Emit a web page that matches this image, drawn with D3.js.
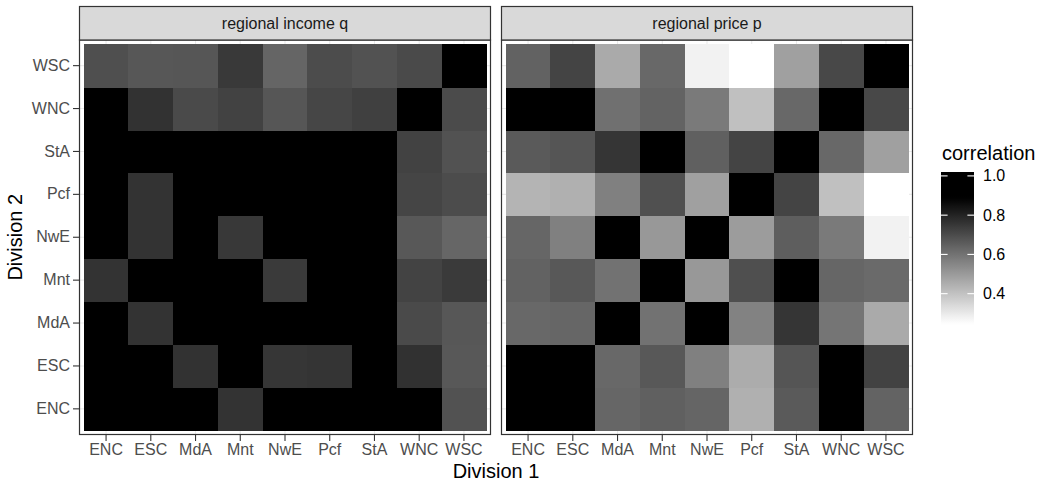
<!DOCTYPE html>
<html>
<head>
<meta charset="utf-8">
<script src="https://cdn.jsdelivr.net/npm/d3@7"></script>
<style>
  html, body { margin: 0; padding: 0; background: #ffffff; }
  svg { display: block; font-family: "Liberation Sans", Arial, Helvetica, sans-serif; }
</style>
</head>
<body>
<svg id="chart" width="1047" height="483"></svg>
<script>
// Census divisions on both axes
const divisions = ["ENC", "ESC", "MdA", "Mnt", "NwE", "Pcf", "StA", "WNC", "WSC"];

// Correlation matrices: one row per Division 2 (ENC ... WSC), columns follow Division 1
const incomeCorr = [
  [1.00, 0.97, 0.96, 0.761, 0.95, 0.96, 0.97, 0.94, 0.683],
  [0.97, 1.00, 0.764, 0.95, 0.753, 0.758, 0.96, 0.766, 0.667],
  [0.96, 0.761, 1.00, 0.96, 0.97, 0.95, 0.96, 0.703, 0.670],
  [0.761, 0.95, 0.96, 1.00, 0.743, 0.95, 0.97, 0.720, 0.743],
  [0.96, 0.761, 0.97, 0.748, 1.00, 0.96, 0.95, 0.667, 0.632],
  [0.95, 0.761, 0.96, 0.95, 0.96, 1.00, 0.97, 0.715, 0.698],
  [0.97, 0.96, 0.96, 0.95, 0.96, 0.97, 1.00, 0.723, 0.683],
  [0.94, 0.764, 0.703, 0.723, 0.672, 0.713, 0.728, 1.00, 0.700],
  [0.690, 0.670, 0.672, 0.746, 0.635, 0.698, 0.683, 0.703, 1.00]
];

const priceCorr = [
  [1.00, 0.96, 0.632, 0.647, 0.635, 0.445, 0.662, 0.95, 0.640],
  [0.96, 1.00, 0.627, 0.667, 0.566, 0.455, 0.675, 0.94, 0.723],
  [0.627, 0.632, 1.00, 0.602, 0.95, 0.561, 0.756, 0.594, 0.460],
  [0.642, 0.667, 0.602, 1.00, 0.506, 0.690, 0.95, 0.632, 0.622],
  [0.632, 0.566, 0.95, 0.506, 1.00, 0.495, 0.652, 0.581, 0.278],
  [0.435, 0.445, 0.566, 0.688, 0.485, 1.00, 0.718, 0.404, 0.245],
  [0.662, 0.675, 0.756, 0.94, 0.647, 0.718, 1.00, 0.627, 0.485],
  [0.96, 0.95, 0.607, 0.640, 0.581, 0.404, 0.627, 1.00, 0.708],
  [0.642, 0.718, 0.460, 0.627, 0.278, 0.245, 0.485, 0.708, 1.00]
];

const panelTitles = ["regional income q", "regional price p"];
const legendTicks = [0.4, 0.6, 0.8, 1.0];

const panels = [
  { title: panelTitles[0], values: incomeCorr },
  { title: panelTitles[1], values: priceCorr }
];

// Fill scale: light for weak correlation, black for strong
const allValues = incomeCorr.flat().concat(priceCorr.flat());
const vMin = d3.min(allValues);
const vMax = d3.max(allValues);
const fill = d3.scaleLinear()
  .domain([vMin, 0.89])
  .range(["#ffffff", "#000000"])
  .clamp(true);

const svg = d3.select("#chart");

// Layout
const panelW = 411;
const panelXs = [79.5, 501.5];
const stripTop = 6.5, stripBottom = 40;
const panelTop = 40, panelBottom = 434.5;
const inset = 4.2;

const y = d3.scaleBand()
  .domain(divisions)
  .range([panelBottom - inset, panelTop + inset])
  .padding(0);

panels.forEach((p, pi) => {
  const x0 = panelXs[pi];
  const x = d3.scaleBand()
    .domain(divisions)
    .range([x0 + inset, x0 + panelW - inset])
    .padding(0);

  const g = svg.append("g");

  // panel background
  g.append("rect")
    .attr("x", x0).attr("y", panelTop)
    .attr("width", panelW).attr("height", panelBottom - panelTop)
    .attr("fill", "#ffffff");

  // grid lines at category centres
  g.selectAll("line.gx").data(divisions).enter().append("line")
    .attr("x1", d => x(d) + x.bandwidth() / 2)
    .attr("x2", d => x(d) + x.bandwidth() / 2)
    .attr("y1", panelTop).attr("y2", panelBottom)
    .attr("stroke", "#ebebeb").attr("stroke-width", 1.1);
  g.selectAll("line.gy").data(divisions).enter().append("line")
    .attr("y1", d => y(d) + y.bandwidth() / 2)
    .attr("y2", d => y(d) + y.bandwidth() / 2)
    .attr("x1", x0).attr("x2", x0 + panelW)
    .attr("stroke", "#ebebeb").attr("stroke-width", 1.1);

  // tiles
  const cells = [];
  p.values.forEach((row, ri) => {
    row.forEach((v, ci) => {
      cells.push({ d1: divisions[ci], d2: divisions[ri], v: v });
    });
  });
  g.append("g")
    .attr("shape-rendering", "crispEdges")
    .selectAll("rect.tile").data(cells).enter().append("rect")
    .attr("class", "tile")
    .attr("x", d => x(d.d1))
    .attr("y", d => y(d.d2))
    .attr("width", x.bandwidth() + 0.5)
    .attr("height", y.bandwidth() + 0.5)
    .attr("fill", d => fill(d.v));

  // panel border
  g.append("rect")
    .attr("x", x0).attr("y", panelTop)
    .attr("width", panelW).attr("height", panelBottom - panelTop)
    .attr("fill", "none").attr("stroke", "#333333").attr("stroke-width", 1.2);

  // strip
  g.append("rect")
    .attr("x", x0).attr("y", stripTop)
    .attr("width", panelW).attr("height", stripBottom - stripTop)
    .attr("fill", "#d9d9d9").attr("stroke", "#333333").attr("stroke-width", 1.2);
  g.append("text")
    .attr("x", x0 + panelW / 2).attr("y", (stripTop + stripBottom) / 2)
    .attr("text-anchor", "middle").attr("dominant-baseline", "central")
    .attr("font-size", 16).attr("fill", "#1a1a1a")
    .text(p.title);

  // x axis
  const xa = g.append("g")
    .attr("transform", `translate(0,${panelBottom})`)
    .call(d3.axisBottom(x).tickSize(6.5).tickSizeOuter(0).tickPadding(3));
  xa.select(".domain").remove();
  xa.selectAll(".tick line").attr("stroke", "#333333").attr("stroke-width", 1.1);
  xa.selectAll(".tick text").attr("font-size", 16).attr("fill", "#4d4d4d")
    .attr("font-family", "Liberation Sans, Arial, sans-serif");

  // y axis on the first panel only
  if (pi === 0) {
    const ya = g.append("g")
      .attr("transform", `translate(${x0},0)`)
      .call(d3.axisLeft(y).tickSize(6.5).tickSizeOuter(0).tickPadding(3));
    ya.select(".domain").remove();
    ya.selectAll(".tick line").attr("stroke", "#333333").attr("stroke-width", 1.1);
    ya.selectAll(".tick text").attr("font-size", 16).attr("fill", "#4d4d4d")
      .attr("font-family", "Liberation Sans, Arial, sans-serif");
  }
});

// axis titles
svg.append("text")
  .attr("x", (panelXs[0] + panelXs[1] + panelW) / 2).attr("y", 478)
  .attr("text-anchor", "middle").attr("font-size", 20).attr("fill", "#000000")
  .text("Division 1");
svg.append("text")
  .attr("transform", `translate(22,${(panelTop + panelBottom) / 2}) rotate(-90)`)
  .attr("text-anchor", "middle").attr("font-size", 20).attr("fill", "#000000")
  .text("Division 2");

// legend colour bar
const barX = 941, barW = 33, barTop = 172, barBottom = 328;
const halfBin = (barBottom - barTop) / 40;
const legendY = d3.scaleLinear()
  .domain([vMax, vMin])
  .range([barTop + halfBin, barBottom - halfBin]);

const defs = svg.append("defs");
const grad = defs.append("linearGradient")
  .attr("id", "corrGradient")
  .attr("x1", 0).attr("y1", 0).attr("x2", 0).attr("y2", 1);
d3.range(0, 61).forEach(i => {
  const t = i / 60;
  const v = legendY.invert(barTop + t * (barBottom - barTop));
  grad.append("stop").attr("offset", t).attr("stop-color", fill(v));
});

svg.append("text")
  .attr("x", 942).attr("y", 160)
  .attr("font-size", 20).attr("fill", "#000000")
  .text("correlation");

svg.append("rect")
  .attr("x", barX).attr("y", barTop)
  .attr("width", barW).attr("height", barBottom - barTop)
  .attr("fill", "url(#corrGradient)");

const tickLen = barW / 5;
legendTicks.forEach(v => {
  const ty = legendY(v);
  svg.append("line")
    .attr("x1", barX).attr("x2", barX + tickLen)
    .attr("y1", ty).attr("y2", ty)
    .attr("stroke", "#ffffff").attr("stroke-width", 1.1);
  svg.append("line")
    .attr("x1", barX + barW - tickLen).attr("x2", barX + barW)
    .attr("y1", ty).attr("y2", ty)
    .attr("stroke", "#ffffff").attr("stroke-width", 1.1);
  svg.append("text")
    .attr("x", 983).attr("y", ty)
    .attr("dominant-baseline", "central")
    .attr("font-size", 16).attr("fill", "#000000")
    .text(d3.format(".1f")(v));
});
</script>
</body>
</html>
